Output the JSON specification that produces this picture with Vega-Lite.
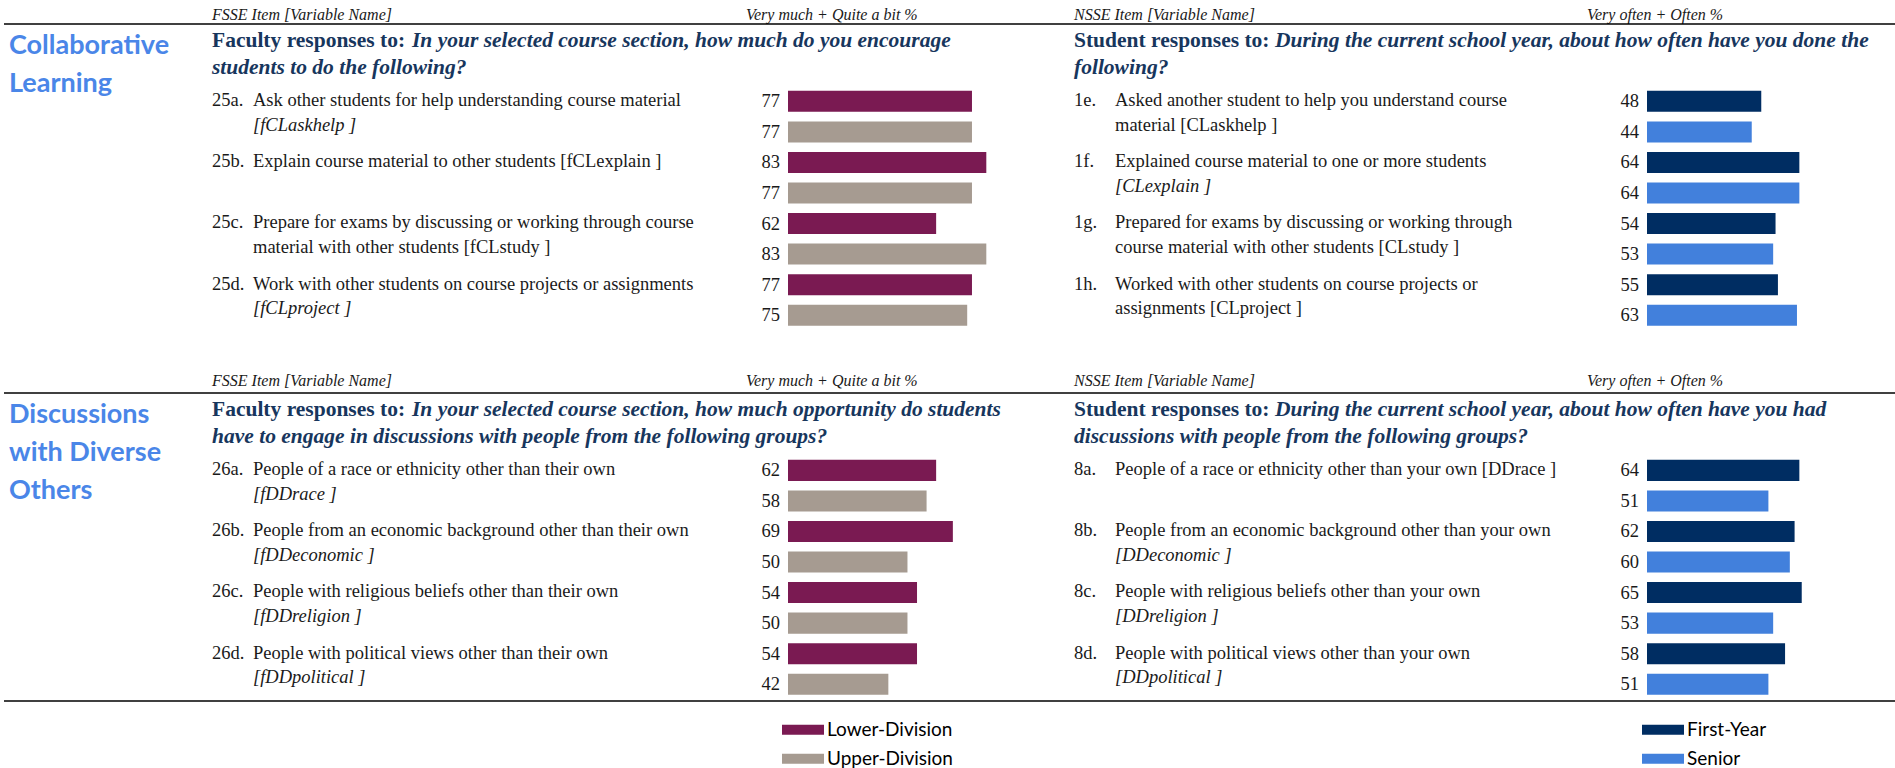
{
  "$schema": "https://vega.github.io/schema/vega-lite/v6.json",
  "padding": 0,
  "background": "white",
  "spacing": 0,
  "resolve": {"scale": {"x": "independent", "y": "independent", "yOffset": "independent"}},
  "datasets": {
    "headers": [
      {"section": "CL", "side": "FSSE", "itemHead": "FSSE Item [Variable Name]", "pctHead": "Very much + Quite a bit %"},
      {"section": "CL", "side": "NSSE", "itemHead": "NSSE Item [Variable Name]", "pctHead": "Very often + Often %"},
      {"section": "DD", "side": "FSSE", "itemHead": "FSSE Item [Variable Name]", "pctHead": "Very much + Quite a bit %"},
      {"section": "DD", "side": "NSSE", "itemHead": "NSSE Item [Variable Name]", "pctHead": "Very often + Often %"}
    ],
    "sections": [
      {"section": "CL", "name": "Collaborative\nLearning"},
      {"section": "DD", "name": "Discussions\nwith Diverse\nOthers"}
    ],
    "titles": [
      {"section": "CL", "side": "FSSE", "lead": "Faculty responses to:", "q1": "In your selected course section, how much do you encourage", "q2": "students to do the following?"},
      {"section": "CL", "side": "NSSE", "lead": "Student responses to:", "q1": "During the current school year, about how often have you done the", "q2": "following?"},
      {"section": "DD", "side": "FSSE", "lead": "Faculty responses to:", "q1": "In your selected course section, how much opportunity do students", "q2": "have to engage in discussions with people from the following groups?"},
      {"section": "DD", "side": "NSSE", "lead": "Student responses to:", "q1": "During the current school year, about how often have you had", "q2": "discussions with people from the following groups?"}
    ],
    "items": [
      {"section": "CL", "side": "FSSE", "item": "25a.", "l1": "Ask other students for help understanding course material", "l2": "", "v2": "[fCLaskhelp ]"},
      {"section": "CL", "side": "FSSE", "item": "25b.", "l1": "Explain course material to other students [fCLexplain ]", "l2": "", "v2": ""},
      {"section": "CL", "side": "FSSE", "item": "25c.", "l1": "Prepare for exams by discussing or working through course", "l2": "material with other students [fCLstudy ]", "v2": ""},
      {"section": "CL", "side": "FSSE", "item": "25d.", "l1": "Work with other students on course projects or assignments", "l2": "", "v2": "[fCLproject ]"},
      {"section": "CL", "side": "NSSE", "item": "1e.", "l1": "Asked another student to help you understand course", "l2": "material [CLaskhelp ]", "v2": ""},
      {"section": "CL", "side": "NSSE", "item": "1f.", "l1": "Explained course material to one or more students", "l2": "", "v2": "[CLexplain ]"},
      {"section": "CL", "side": "NSSE", "item": "1g.", "l1": "Prepared for exams by discussing or working through", "l2": "course material with other students [CLstudy ]", "v2": ""},
      {"section": "CL", "side": "NSSE", "item": "1h.", "l1": "Worked with other students on course projects or", "l2": "assignments [CLproject ]", "v2": ""},
      {"section": "DD", "side": "FSSE", "item": "26a.", "l1": "People of a race or ethnicity other than their own", "l2": "", "v2": "[fDDrace ]"},
      {"section": "DD", "side": "FSSE", "item": "26b.", "l1": "People from an economic background other than their own", "l2": "", "v2": "[fDDeconomic ]"},
      {"section": "DD", "side": "FSSE", "item": "26c.", "l1": "People with religious beliefs other than their own", "l2": "", "v2": "[fDDreligion ]"},
      {"section": "DD", "side": "FSSE", "item": "26d.", "l1": "People with political views other than their own", "l2": "", "v2": "[fDDpolitical ]"},
      {"section": "DD", "side": "NSSE", "item": "8a.", "l1": "People of a race or ethnicity other than your own [DDrace ]", "l2": "", "v2": ""},
      {"section": "DD", "side": "NSSE", "item": "8b.", "l1": "People from an economic background other than your own", "l2": "", "v2": "[DDeconomic ]"},
      {"section": "DD", "side": "NSSE", "item": "8c.", "l1": "People with religious beliefs other than your own", "l2": "", "v2": "[DDreligion ]"},
      {"section": "DD", "side": "NSSE", "item": "8d.", "l1": "People with political views other than your own", "l2": "", "v2": "[DDpolitical ]"}
    ],
    "bars": [
      {"section": "CL", "side": "FSSE", "item": "25a.", "group": "Lower-Division", "value": 77},
      {"section": "CL", "side": "FSSE", "item": "25a.", "group": "Upper-Division", "value": 77},
      {"section": "CL", "side": "FSSE", "item": "25b.", "group": "Lower-Division", "value": 83},
      {"section": "CL", "side": "FSSE", "item": "25b.", "group": "Upper-Division", "value": 77},
      {"section": "CL", "side": "FSSE", "item": "25c.", "group": "Lower-Division", "value": 62},
      {"section": "CL", "side": "FSSE", "item": "25c.", "group": "Upper-Division", "value": 83},
      {"section": "CL", "side": "FSSE", "item": "25d.", "group": "Lower-Division", "value": 77},
      {"section": "CL", "side": "FSSE", "item": "25d.", "group": "Upper-Division", "value": 75},
      {"section": "CL", "side": "NSSE", "item": "1e.", "group": "First-Year", "value": 48},
      {"section": "CL", "side": "NSSE", "item": "1e.", "group": "Senior", "value": 44},
      {"section": "CL", "side": "NSSE", "item": "1f.", "group": "First-Year", "value": 64},
      {"section": "CL", "side": "NSSE", "item": "1f.", "group": "Senior", "value": 64},
      {"section": "CL", "side": "NSSE", "item": "1g.", "group": "First-Year", "value": 54},
      {"section": "CL", "side": "NSSE", "item": "1g.", "group": "Senior", "value": 53},
      {"section": "CL", "side": "NSSE", "item": "1h.", "group": "First-Year", "value": 55},
      {"section": "CL", "side": "NSSE", "item": "1h.", "group": "Senior", "value": 63},
      {"section": "DD", "side": "FSSE", "item": "26a.", "group": "Lower-Division", "value": 62},
      {"section": "DD", "side": "FSSE", "item": "26a.", "group": "Upper-Division", "value": 58},
      {"section": "DD", "side": "FSSE", "item": "26b.", "group": "Lower-Division", "value": 69},
      {"section": "DD", "side": "FSSE", "item": "26b.", "group": "Upper-Division", "value": 50},
      {"section": "DD", "side": "FSSE", "item": "26c.", "group": "Lower-Division", "value": 54},
      {"section": "DD", "side": "FSSE", "item": "26c.", "group": "Upper-Division", "value": 50},
      {"section": "DD", "side": "FSSE", "item": "26d.", "group": "Lower-Division", "value": 54},
      {"section": "DD", "side": "FSSE", "item": "26d.", "group": "Upper-Division", "value": 42},
      {"section": "DD", "side": "NSSE", "item": "8a.", "group": "First-Year", "value": 64},
      {"section": "DD", "side": "NSSE", "item": "8a.", "group": "Senior", "value": 51},
      {"section": "DD", "side": "NSSE", "item": "8b.", "group": "First-Year", "value": 62},
      {"section": "DD", "side": "NSSE", "item": "8b.", "group": "Senior", "value": 60},
      {"section": "DD", "side": "NSSE", "item": "8c.", "group": "First-Year", "value": 65},
      {"section": "DD", "side": "NSSE", "item": "8c.", "group": "Senior", "value": 53},
      {"section": "DD", "side": "NSSE", "item": "8d.", "group": "First-Year", "value": 58},
      {"section": "DD", "side": "NSSE", "item": "8d.", "group": "Senior", "value": 51}
    ],
    "legend": [
      {"side": "FSSE", "group": "Lower-Division"},
      {"side": "FSSE", "group": "Upper-Division"},
      {"side": "NSSE", "group": "First-Year"},
      {"side": "NSSE", "group": "Senior"}
    ]
  },
  "vconcat": [
    {"spacing": 0, "bounds": "flush", "resolve": {"scale": {"x": "independent", "y": "independent", "yOffset": "independent"}}, "hconcat": [
      {"width": 211.5, "height": 23, "data": {"values": [{}]}, "mark": "text", "encoding": {"text": {"value": ""}}},
      {"width": 533.5, "height": 23, "data": {"name": "headers"}, "transform": [{"filter": "datum.section === 'CL' && datum.side === 'FSSE'"}], "mark": {"type": "text", "align": "left", "fontStyle": "italic", "fontSize": 16, "dy": 3}, "encoding": {"x": {"datum": 0, "type": "quantitative", "scale": {"domain": [0, 1]}, "axis": null}, "text": {"field": "itemHead"}}},
      {"width": 328, "height": 23, "data": {"name": "headers"}, "transform": [{"filter": "datum.section === 'CL' && datum.side === 'FSSE'"}], "mark": {"type": "text", "align": "left", "fontStyle": "italic", "fontSize": 16, "dy": 3}, "encoding": {"x": {"datum": 0, "type": "quantitative", "scale": {"domain": [0, 1]}, "axis": null}, "text": {"field": "pctHead"}}},
      {"width": 513, "height": 23, "data": {"name": "headers"}, "transform": [{"filter": "datum.section === 'CL' && datum.side === 'NSSE'"}], "mark": {"type": "text", "align": "left", "fontStyle": "italic", "fontSize": 16, "dy": 3}, "encoding": {"x": {"datum": 0, "type": "quantitative", "scale": {"domain": [0, 1]}, "axis": null}, "text": {"field": "itemHead"}}},
      {"width": 309, "height": 23, "data": {"name": "headers"}, "transform": [{"filter": "datum.section === 'CL' && datum.side === 'NSSE'"}], "mark": {"type": "text", "align": "left", "fontStyle": "italic", "fontSize": 16, "dy": 3}, "encoding": {"x": {"datum": 0, "type": "quantitative", "scale": {"domain": [0, 1]}, "axis": null}, "text": {"field": "pctHead"}}}
    ]},
    {"spacing": 0, "bounds": "flush", "hconcat": [
      {"width": 4, "height": 2, "data": {"values": [{}]}, "mark": {"type": "rule", "strokeOpacity": 0, "strokeWidth": 1}, "encoding": {"y": {"datum": 0.5, "type": "quantitative", "scale": {"domain": [0, 1]}, "axis": null}}},
      {"width": 1891, "height": 2, "data": {"values": [{}]}, "mark": {"type": "rule", "color": "#000000", "strokeWidth": 1.5}, "encoding": {"y": {"datum": 0.5, "type": "quantitative", "scale": {"domain": [0, 1]}, "axis": null}}}
    ]},
    {"spacing": 0, "bounds": "flush", "resolve": {"scale": {"x": "independent", "y": "independent", "yOffset": "independent"}}, "hconcat": [
      {"width": 9, "height": 343.5, "data": {"values": [{}]}, "mark": "text", "encoding": {"text": {"value": ""}}},
      {"width": 202.5, "height": 343.5, "data": {"name": "sections"}, "transform": [{"filter": "datum.section === 'CL'"}], "mark": {"type": "text", "align": "left", "baseline": "middle", "font": "Lato", "fontWeight": "bold", "fontSize": 27, "color": "#4A86E8", "lineBreak": "\n", "lineHeight": 38}, "encoding": {"x": {"datum": 0, "type": "quantitative", "scale": {"domain": [0, 1]}, "axis": null}, "y": {"datum": "title", "type": "nominal", "bandPosition": 0.35, "axis": null, "scale": {"type": "band", "domain": ["title", "25a.", "25b.", "25c.", "25d."], "paddingInner": 0, "paddingOuter": 0.311, "align": 0, "round": false}}, "text": {"field": "name"}}},
      {"width": 41, "height": 343.5, "layer": [
        {"data": {"name": "titles"}, "transform": [{"filter": "datum.section === 'CL' && datum.side === 'FSSE'"}], "mark": {"type": "text", "align": "left", "baseline": "alphabetic", "fontWeight": "bold", "fontSize": 21.5, "color": "#17365D"}, "encoding": {"x": {"datum": 0, "type": "quantitative", "scale": {"domain": [0, 1]}, "axis": null}, "y": {"datum": "title", "type": "nominal", "bandPosition": 0.352, "axis": null, "scale": {"type": "band", "domain": ["title", "25a.", "25b.", "25c.", "25d."], "paddingInner": 0, "paddingOuter": 0.311, "align": 0, "round": false}}, "text": {"field": "lead"}}},
        {"data": {"name": "titles"}, "transform": [{"filter": "datum.section === 'CL' && datum.side === 'FSSE'"}], "mark": {"type": "text", "align": "left", "baseline": "alphabetic", "fontWeight": "bold", "fontStyle": "italic", "fontSize": 21.5, "color": "#17365D"}, "encoding": {"x": {"datum": 0, "type": "quantitative", "scale": {"domain": [0, 1]}, "axis": null}, "y": {"datum": "title", "type": "nominal", "bandPosition": 0.794, "axis": null}, "text": {"field": "q2"}}},
        {"data": {"name": "items"}, "transform": [{"filter": "datum.section === 'CL' && datum.side === 'FSSE'"}], "mark": {"type": "text", "align": "left", "baseline": "alphabetic"}, "encoding": {"x": {"datum": 0, "type": "quantitative", "axis": null}, "y": {"field": "item", "type": "nominal", "bandPosition": 0.33, "axis": null}, "text": {"field": "item"}}}
      ]},
      {"width": 158.5, "height": 343.5, "data": {"name": "items"}, "transform": [{"filter": "datum.section === 'CL' && datum.side === 'FSSE'"}], "encoding": {"x": {"datum": 0, "type": "quantitative", "scale": {"domain": [0, 1]}, "axis": null}}, "layer": [
        {"mark": {"type": "text", "align": "left", "baseline": "alphabetic"}, "encoding": {"y": {"field": "item", "type": "nominal", "bandPosition": 0.33, "axis": null, "scale": {"type": "band", "domain": ["title", "25a.", "25b.", "25c.", "25d."], "paddingInner": 0, "paddingOuter": 0.311, "align": 0, "round": false}}, "text": {"field": "l1"}}},
        {"mark": {"type": "text", "align": "left", "baseline": "alphabetic"}, "encoding": {"y": {"field": "item", "type": "nominal", "bandPosition": 0.73, "axis": null}, "text": {"field": "l2"}}},
        {"mark": {"type": "text", "align": "left", "baseline": "alphabetic", "fontStyle": "italic"}, "encoding": {"y": {"field": "item", "type": "nominal", "bandPosition": 0.73, "axis": null}, "text": {"field": "v2"}}}
      ]},
      {"width": 376, "height": 343.5, "data": {"name": "titles"}, "transform": [{"filter": "datum.section === 'CL' && datum.side === 'FSSE'"}], "mark": {"type": "text", "align": "left", "baseline": "alphabetic", "fontWeight": "bold", "fontStyle": "italic", "fontSize": 21.5, "color": "#17365D"}, "encoding": {"x": {"datum": 0, "type": "quantitative", "scale": {"domain": [0, 1]}, "axis": null}, "y": {"datum": "title", "type": "nominal", "bandPosition": 0.352, "axis": null, "scale": {"type": "band", "domain": ["title", "25a.", "25b.", "25c.", "25d."], "paddingInner": 0, "paddingOuter": 0.311, "align": 0, "round": false}}, "text": {"field": "q1"}}},
      {"width": 286, "height": 343.5, "data": {"name": "bars"}, "transform": [{"filter": "datum.section === 'CL' && datum.side === 'FSSE'"}], "encoding": {"y": {"field": "item", "type": "nominal", "axis": null, "scale": {"type": "band", "domain": ["title", "25a.", "25b.", "25c.", "25d."], "paddingInner": 0, "paddingOuter": 0.311, "align": 0, "round": false}}, "yOffset": {"field": "group", "type": "nominal", "sort": null, "scale": {"type": "band", "paddingInner": 0.3126, "paddingOuter": 0.1563, "round": false}}}, "layer": [
        {"mark": {"type": "bar"}, "encoding": {"x": {"field": "value", "type": "quantitative", "scale": {"domain": [0, 119.7], "nice": false}, "axis": null}, "color": {"field": "group", "type": "nominal", "scale": {"domain": ["Lower-Division", "Upper-Division", "First-Year", "Senior"], "range": ["#7A1A52", "#A69B91", "#002D62", "#4280DC"]}, "legend": null}}},
        {"mark": {"type": "text", "align": "right", "baseline": "middle", "dx": -8}, "encoding": {"x": {"datum": 0, "type": "quantitative"}, "text": {"field": "value", "type": "quantitative"}}}
      ]},
      {"width": 41, "height": 343.5, "layer": [
        {"data": {"name": "titles"}, "transform": [{"filter": "datum.section === 'CL' && datum.side === 'NSSE'"}], "mark": {"type": "text", "align": "left", "baseline": "alphabetic", "fontWeight": "bold", "fontSize": 21.5, "color": "#17365D"}, "encoding": {"x": {"datum": 0, "type": "quantitative", "scale": {"domain": [0, 1]}, "axis": null}, "y": {"datum": "title", "type": "nominal", "bandPosition": 0.352, "axis": null, "scale": {"type": "band", "domain": ["title", "1e.", "1f.", "1g.", "1h."], "paddingInner": 0, "paddingOuter": 0.311, "align": 0, "round": false}}, "text": {"field": "lead"}}},
        {"data": {"name": "titles"}, "transform": [{"filter": "datum.section === 'CL' && datum.side === 'NSSE'"}], "mark": {"type": "text", "align": "left", "baseline": "alphabetic", "fontWeight": "bold", "fontStyle": "italic", "fontSize": 21.5, "color": "#17365D"}, "encoding": {"x": {"datum": 0, "type": "quantitative", "scale": {"domain": [0, 1]}, "axis": null}, "y": {"datum": "title", "type": "nominal", "bandPosition": 0.794, "axis": null}, "text": {"field": "q2"}}},
        {"data": {"name": "items"}, "transform": [{"filter": "datum.section === 'CL' && datum.side === 'NSSE'"}], "mark": {"type": "text", "align": "left", "baseline": "alphabetic"}, "encoding": {"x": {"datum": 0, "type": "quantitative", "axis": null}, "y": {"field": "item", "type": "nominal", "bandPosition": 0.33, "axis": null}, "text": {"field": "item"}}}
      ]},
      {"width": 160, "height": 343.5, "data": {"name": "items"}, "transform": [{"filter": "datum.section === 'CL' && datum.side === 'NSSE'"}], "encoding": {"x": {"datum": 0, "type": "quantitative", "scale": {"domain": [0, 1]}, "axis": null}}, "layer": [
        {"mark": {"type": "text", "align": "left", "baseline": "alphabetic"}, "encoding": {"y": {"field": "item", "type": "nominal", "bandPosition": 0.33, "axis": null, "scale": {"type": "band", "domain": ["title", "1e.", "1f.", "1g.", "1h."], "paddingInner": 0, "paddingOuter": 0.311, "align": 0, "round": false}}, "text": {"field": "l1"}}},
        {"mark": {"type": "text", "align": "left", "baseline": "alphabetic"}, "encoding": {"y": {"field": "item", "type": "nominal", "bandPosition": 0.73, "axis": null}, "text": {"field": "l2"}}},
        {"mark": {"type": "text", "align": "left", "baseline": "alphabetic", "fontStyle": "italic"}, "encoding": {"y": {"field": "item", "type": "nominal", "bandPosition": 0.73, "axis": null}, "text": {"field": "v2"}}}
      ]},
      {"width": 372, "height": 343.5, "data": {"name": "titles"}, "transform": [{"filter": "datum.section === 'CL' && datum.side === 'NSSE'"}], "mark": {"type": "text", "align": "left", "baseline": "alphabetic", "fontWeight": "bold", "fontStyle": "italic", "fontSize": 21.5, "color": "#17365D"}, "encoding": {"x": {"datum": 0, "type": "quantitative", "scale": {"domain": [0, 1]}, "axis": null}, "y": {"datum": "title", "type": "nominal", "bandPosition": 0.352, "axis": null, "scale": {"type": "band", "domain": ["title", "1e.", "1f.", "1g.", "1h."], "paddingInner": 0, "paddingOuter": 0.311, "align": 0, "round": false}}, "text": {"field": "q1"}}},
      {"width": 249, "height": 343.5, "data": {"name": "bars"}, "transform": [{"filter": "datum.section === 'CL' && datum.side === 'NSSE'"}], "encoding": {"y": {"field": "item", "type": "nominal", "axis": null, "scale": {"type": "band", "domain": ["title", "1e.", "1f.", "1g.", "1h."], "paddingInner": 0, "paddingOuter": 0.311, "align": 0, "round": false}}, "yOffset": {"field": "group", "type": "nominal", "sort": null, "scale": {"type": "band", "paddingInner": 0.3126, "paddingOuter": 0.1563, "round": false}}}, "layer": [
        {"mark": {"type": "bar"}, "encoding": {"x": {"field": "value", "type": "quantitative", "scale": {"domain": [0, 104.6], "nice": false}, "axis": null}, "color": {"field": "group", "type": "nominal", "scale": {"domain": ["Lower-Division", "Upper-Division", "First-Year", "Senior"], "range": ["#7A1A52", "#A69B91", "#002D62", "#4280DC"]}, "legend": null}}},
        {"mark": {"type": "text", "align": "right", "baseline": "middle", "dx": -8}, "encoding": {"x": {"datum": 0, "type": "quantitative"}, "text": {"field": "value", "type": "quantitative"}}}
      ]}
    ]},
    {"spacing": 0, "bounds": "flush", "resolve": {"scale": {"x": "independent", "y": "independent", "yOffset": "independent"}}, "hconcat": [
      {"width": 211.5, "height": 23, "data": {"values": [{}]}, "mark": "text", "encoding": {"text": {"value": ""}}},
      {"width": 533.5, "height": 23, "data": {"name": "headers"}, "transform": [{"filter": "datum.section === 'DD' && datum.side === 'FSSE'"}], "mark": {"type": "text", "align": "left", "fontStyle": "italic", "fontSize": 16}, "encoding": {"x": {"datum": 0, "type": "quantitative", "scale": {"domain": [0, 1]}, "axis": null}, "text": {"field": "itemHead"}}},
      {"width": 328, "height": 23, "data": {"name": "headers"}, "transform": [{"filter": "datum.section === 'DD' && datum.side === 'FSSE'"}], "mark": {"type": "text", "align": "left", "fontStyle": "italic", "fontSize": 16}, "encoding": {"x": {"datum": 0, "type": "quantitative", "scale": {"domain": [0, 1]}, "axis": null}, "text": {"field": "pctHead"}}},
      {"width": 513, "height": 23, "data": {"name": "headers"}, "transform": [{"filter": "datum.section === 'DD' && datum.side === 'NSSE'"}], "mark": {"type": "text", "align": "left", "fontStyle": "italic", "fontSize": 16}, "encoding": {"x": {"datum": 0, "type": "quantitative", "scale": {"domain": [0, 1]}, "axis": null}, "text": {"field": "itemHead"}}},
      {"width": 309, "height": 23, "data": {"name": "headers"}, "transform": [{"filter": "datum.section === 'DD' && datum.side === 'NSSE'"}], "mark": {"type": "text", "align": "left", "fontStyle": "italic", "fontSize": 16}, "encoding": {"x": {"datum": 0, "type": "quantitative", "scale": {"domain": [0, 1]}, "axis": null}, "text": {"field": "pctHead"}}}
    ]},
    {"spacing": 0, "bounds": "flush", "hconcat": [
      {"width": 4, "height": 2, "data": {"values": [{}]}, "mark": {"type": "rule", "strokeOpacity": 0, "strokeWidth": 1}, "encoding": {"y": {"datum": 0.5, "type": "quantitative", "scale": {"domain": [0, 1]}, "axis": null}}},
      {"width": 1891, "height": 2, "data": {"values": [{}]}, "mark": {"type": "rule", "color": "#000000", "strokeWidth": 1.5}, "encoding": {"y": {"datum": 0.5, "type": "quantitative", "scale": {"domain": [0, 1]}, "axis": null}}}
    ]},
    {"spacing": 0, "bounds": "flush", "resolve": {"scale": {"x": "independent", "y": "independent", "yOffset": "independent"}}, "hconcat": [
      {"width": 9, "height": 305.5, "data": {"values": [{}]}, "mark": "text", "encoding": {"text": {"value": ""}}},
      {"width": 202.5, "height": 305.5, "data": {"name": "sections"}, "transform": [{"filter": "datum.section === 'DD'"}], "mark": {"type": "text", "align": "left", "baseline": "middle", "font": "Lato", "fontWeight": "bold", "fontSize": 27, "color": "#4A86E8", "lineBreak": "\n", "lineHeight": 38}, "encoding": {"x": {"datum": 0, "type": "quantitative", "scale": {"domain": [0, 1]}, "axis": null}, "y": {"datum": "title", "type": "nominal", "bandPosition": 0.35, "axis": null, "scale": {"type": "band", "domain": ["title", "26a.", "26b.", "26c.", "26d."], "paddingInner": 0, "paddingOuter": 0, "align": 0, "round": false}}, "text": {"field": "name"}}},
      {"width": 41, "height": 305.5, "layer": [
        {"data": {"name": "titles"}, "transform": [{"filter": "datum.section === 'DD' && datum.side === 'FSSE'"}], "mark": {"type": "text", "align": "left", "baseline": "alphabetic", "fontWeight": "bold", "fontSize": 21.5, "color": "#17365D"}, "encoding": {"x": {"datum": 0, "type": "quantitative", "scale": {"domain": [0, 1]}, "axis": null}, "y": {"datum": "title", "type": "nominal", "bandPosition": 0.352, "axis": null, "scale": {"type": "band", "domain": ["title", "26a.", "26b.", "26c.", "26d."], "paddingInner": 0, "paddingOuter": 0, "align": 0, "round": false}}, "text": {"field": "lead"}}},
        {"data": {"name": "titles"}, "transform": [{"filter": "datum.section === 'DD' && datum.side === 'FSSE'"}], "mark": {"type": "text", "align": "left", "baseline": "alphabetic", "fontWeight": "bold", "fontStyle": "italic", "fontSize": 21.5, "color": "#17365D"}, "encoding": {"x": {"datum": 0, "type": "quantitative", "scale": {"domain": [0, 1]}, "axis": null}, "y": {"datum": "title", "type": "nominal", "bandPosition": 0.794, "axis": null}, "text": {"field": "q2"}}},
        {"data": {"name": "items"}, "transform": [{"filter": "datum.section === 'DD' && datum.side === 'FSSE'"}], "mark": {"type": "text", "align": "left", "baseline": "alphabetic"}, "encoding": {"x": {"datum": 0, "type": "quantitative", "axis": null}, "y": {"field": "item", "type": "nominal", "bandPosition": 0.33, "axis": null}, "text": {"field": "item"}}}
      ]},
      {"width": 158.5, "height": 305.5, "data": {"name": "items"}, "transform": [{"filter": "datum.section === 'DD' && datum.side === 'FSSE'"}], "encoding": {"x": {"datum": 0, "type": "quantitative", "scale": {"domain": [0, 1]}, "axis": null}}, "layer": [
        {"mark": {"type": "text", "align": "left", "baseline": "alphabetic"}, "encoding": {"y": {"field": "item", "type": "nominal", "bandPosition": 0.33, "axis": null, "scale": {"type": "band", "domain": ["title", "26a.", "26b.", "26c.", "26d."], "paddingInner": 0, "paddingOuter": 0, "align": 0, "round": false}}, "text": {"field": "l1"}}},
        {"mark": {"type": "text", "align": "left", "baseline": "alphabetic"}, "encoding": {"y": {"field": "item", "type": "nominal", "bandPosition": 0.73, "axis": null}, "text": {"field": "l2"}}},
        {"mark": {"type": "text", "align": "left", "baseline": "alphabetic", "fontStyle": "italic"}, "encoding": {"y": {"field": "item", "type": "nominal", "bandPosition": 0.73, "axis": null}, "text": {"field": "v2"}}}
      ]},
      {"width": 376, "height": 305.5, "data": {"name": "titles"}, "transform": [{"filter": "datum.section === 'DD' && datum.side === 'FSSE'"}], "mark": {"type": "text", "align": "left", "baseline": "alphabetic", "fontWeight": "bold", "fontStyle": "italic", "fontSize": 21.5, "color": "#17365D"}, "encoding": {"x": {"datum": 0, "type": "quantitative", "scale": {"domain": [0, 1]}, "axis": null}, "y": {"datum": "title", "type": "nominal", "bandPosition": 0.352, "axis": null, "scale": {"type": "band", "domain": ["title", "26a.", "26b.", "26c.", "26d."], "paddingInner": 0, "paddingOuter": 0, "align": 0, "round": false}}, "text": {"field": "q1"}}},
      {"width": 286, "height": 305.5, "data": {"name": "bars"}, "transform": [{"filter": "datum.section === 'DD' && datum.side === 'FSSE'"}], "encoding": {"y": {"field": "item", "type": "nominal", "axis": null, "scale": {"type": "band", "domain": ["title", "26a.", "26b.", "26c.", "26d."], "paddingInner": 0, "paddingOuter": 0, "align": 0, "round": false}}, "yOffset": {"field": "group", "type": "nominal", "sort": null, "scale": {"type": "band", "paddingInner": 0.3126, "paddingOuter": 0.1563, "round": false}}}, "layer": [
        {"mark": {"type": "bar"}, "encoding": {"x": {"field": "value", "type": "quantitative", "scale": {"domain": [0, 119.7], "nice": false}, "axis": null}, "color": {"field": "group", "type": "nominal", "scale": {"domain": ["Lower-Division", "Upper-Division", "First-Year", "Senior"], "range": ["#7A1A52", "#A69B91", "#002D62", "#4280DC"]}, "legend": null}}},
        {"mark": {"type": "text", "align": "right", "baseline": "middle", "dx": -8}, "encoding": {"x": {"datum": 0, "type": "quantitative"}, "text": {"field": "value", "type": "quantitative"}}}
      ]},
      {"width": 41, "height": 305.5, "layer": [
        {"data": {"name": "titles"}, "transform": [{"filter": "datum.section === 'DD' && datum.side === 'NSSE'"}], "mark": {"type": "text", "align": "left", "baseline": "alphabetic", "fontWeight": "bold", "fontSize": 21.5, "color": "#17365D"}, "encoding": {"x": {"datum": 0, "type": "quantitative", "scale": {"domain": [0, 1]}, "axis": null}, "y": {"datum": "title", "type": "nominal", "bandPosition": 0.352, "axis": null, "scale": {"type": "band", "domain": ["title", "8a.", "8b.", "8c.", "8d."], "paddingInner": 0, "paddingOuter": 0, "align": 0, "round": false}}, "text": {"field": "lead"}}},
        {"data": {"name": "titles"}, "transform": [{"filter": "datum.section === 'DD' && datum.side === 'NSSE'"}], "mark": {"type": "text", "align": "left", "baseline": "alphabetic", "fontWeight": "bold", "fontStyle": "italic", "fontSize": 21.5, "color": "#17365D"}, "encoding": {"x": {"datum": 0, "type": "quantitative", "scale": {"domain": [0, 1]}, "axis": null}, "y": {"datum": "title", "type": "nominal", "bandPosition": 0.794, "axis": null}, "text": {"field": "q2"}}},
        {"data": {"name": "items"}, "transform": [{"filter": "datum.section === 'DD' && datum.side === 'NSSE'"}], "mark": {"type": "text", "align": "left", "baseline": "alphabetic"}, "encoding": {"x": {"datum": 0, "type": "quantitative", "axis": null}, "y": {"field": "item", "type": "nominal", "bandPosition": 0.33, "axis": null}, "text": {"field": "item"}}}
      ]},
      {"width": 160, "height": 305.5, "data": {"name": "items"}, "transform": [{"filter": "datum.section === 'DD' && datum.side === 'NSSE'"}], "encoding": {"x": {"datum": 0, "type": "quantitative", "scale": {"domain": [0, 1]}, "axis": null}}, "layer": [
        {"mark": {"type": "text", "align": "left", "baseline": "alphabetic"}, "encoding": {"y": {"field": "item", "type": "nominal", "bandPosition": 0.33, "axis": null, "scale": {"type": "band", "domain": ["title", "8a.", "8b.", "8c.", "8d."], "paddingInner": 0, "paddingOuter": 0, "align": 0, "round": false}}, "text": {"field": "l1"}}},
        {"mark": {"type": "text", "align": "left", "baseline": "alphabetic"}, "encoding": {"y": {"field": "item", "type": "nominal", "bandPosition": 0.73, "axis": null}, "text": {"field": "l2"}}},
        {"mark": {"type": "text", "align": "left", "baseline": "alphabetic", "fontStyle": "italic"}, "encoding": {"y": {"field": "item", "type": "nominal", "bandPosition": 0.73, "axis": null}, "text": {"field": "v2"}}}
      ]},
      {"width": 372, "height": 305.5, "data": {"name": "titles"}, "transform": [{"filter": "datum.section === 'DD' && datum.side === 'NSSE'"}], "mark": {"type": "text", "align": "left", "baseline": "alphabetic", "fontWeight": "bold", "fontStyle": "italic", "fontSize": 21.5, "color": "#17365D"}, "encoding": {"x": {"datum": 0, "type": "quantitative", "scale": {"domain": [0, 1]}, "axis": null}, "y": {"datum": "title", "type": "nominal", "bandPosition": 0.352, "axis": null, "scale": {"type": "band", "domain": ["title", "8a.", "8b.", "8c.", "8d."], "paddingInner": 0, "paddingOuter": 0, "align": 0, "round": false}}, "text": {"field": "q1"}}},
      {"width": 249, "height": 305.5, "data": {"name": "bars"}, "transform": [{"filter": "datum.section === 'DD' && datum.side === 'NSSE'"}], "encoding": {"y": {"field": "item", "type": "nominal", "axis": null, "scale": {"type": "band", "domain": ["title", "8a.", "8b.", "8c.", "8d."], "paddingInner": 0, "paddingOuter": 0, "align": 0, "round": false}}, "yOffset": {"field": "group", "type": "nominal", "sort": null, "scale": {"type": "band", "paddingInner": 0.3126, "paddingOuter": 0.1563, "round": false}}}, "layer": [
        {"mark": {"type": "bar"}, "encoding": {"x": {"field": "value", "type": "quantitative", "scale": {"domain": [0, 104.6], "nice": false}, "axis": null}, "color": {"field": "group", "type": "nominal", "scale": {"domain": ["Lower-Division", "Upper-Division", "First-Year", "Senior"], "range": ["#7A1A52", "#A69B91", "#002D62", "#4280DC"]}, "legend": null}}},
        {"mark": {"type": "text", "align": "right", "baseline": "middle", "dx": -8}, "encoding": {"x": {"datum": 0, "type": "quantitative"}, "text": {"field": "value", "type": "quantitative"}}}
      ]}
    ]},
    {"spacing": 0, "bounds": "flush", "hconcat": [
      {"width": 4, "height": 2, "data": {"values": [{}]}, "mark": {"type": "rule", "strokeOpacity": 0, "strokeWidth": 1}, "encoding": {"y": {"datum": 0.5, "type": "quantitative", "scale": {"domain": [0, 1]}, "axis": null}}},
      {"width": 1891, "height": 2, "data": {"values": [{}]}, "mark": {"type": "rule", "color": "#000000", "strokeWidth": 1.5}, "encoding": {"y": {"datum": 0.5, "type": "quantitative", "scale": {"domain": [0, 1]}, "axis": null}}}
    ]},
    {"spacing": 0, "bounds": "flush", "resolve": {"scale": {"x": "independent", "y": "independent", "yOffset": "independent"}}, "hconcat": [
      {"width": 779, "height": 67, "data": {"values": [{}]}, "mark": "text", "encoding": {"text": {"value": ""}}},
      {"width": 48, "height": 67, "data": {"name": "legend"}, "transform": [{"filter": "datum.side === 'FSSE'"}], "mark": {"type": "point", "shape": "M-2.1,-0.5H2.1V0.5H-2.1Z", "size": 400, "filled": true, "opacity": 1}, "encoding": {"y": {"field": "group", "type": "nominal", "sort": null, "axis": null, "scale": {"type": "point", "padding": 0.655, "align": 0.732, "round": false}}, "color": {"field": "group", "type": "nominal", "scale": {"domain": ["Lower-Division", "Upper-Division", "First-Year", "Senior"], "range": ["#7A1A52", "#A69B91", "#002D62", "#4280DC"]}, "legend": null}}},
      {"width": 811.5, "height": 67, "data": {"name": "legend"}, "transform": [{"filter": "datum.side === 'FSSE'"}], "mark": {"type": "text", "align": "left", "baseline": "middle", "font": "Lato", "fontSize": 19, "color": "#000000"}, "encoding": {"x": {"datum": 0, "type": "quantitative", "scale": {"domain": [0, 1]}, "axis": null}, "y": {"field": "group", "type": "nominal", "sort": null, "axis": null, "scale": {"type": "point", "padding": 0.655, "align": 0.732, "round": false}}, "text": {"field": "group"}}},
      {"width": 48, "height": 67, "data": {"name": "legend"}, "transform": [{"filter": "datum.side === 'NSSE'"}], "mark": {"type": "point", "shape": "M-2.1,-0.5H2.1V0.5H-2.1Z", "size": 400, "filled": true, "opacity": 1}, "encoding": {"y": {"field": "group", "type": "nominal", "sort": null, "axis": null, "scale": {"type": "point", "padding": 0.655, "align": 0.732, "round": false}}, "color": {"field": "group", "type": "nominal", "scale": {"domain": ["Lower-Division", "Upper-Division", "First-Year", "Senior"], "range": ["#7A1A52", "#A69B91", "#002D62", "#4280DC"]}, "legend": null}}},
      {"width": 208.5, "height": 67, "data": {"name": "legend"}, "transform": [{"filter": "datum.side === 'NSSE'"}], "mark": {"type": "text", "align": "left", "baseline": "middle", "font": "Lato", "fontSize": 19, "color": "#000000"}, "encoding": {"x": {"datum": 0, "type": "quantitative", "scale": {"domain": [0, 1]}, "axis": null}, "y": {"field": "group", "type": "nominal", "sort": null, "axis": null, "scale": {"type": "point", "padding": 0.655, "align": 0.732, "round": false}}, "text": {"field": "group"}}}
    ]}
  ],
  "config": {
    "view": {"stroke": null},
    "concat": {"spacing": 0},
    "text": {"font": "Liberation Serif", "fontSize": 18.5, "color": "#1a1a1a"}
  }
}
